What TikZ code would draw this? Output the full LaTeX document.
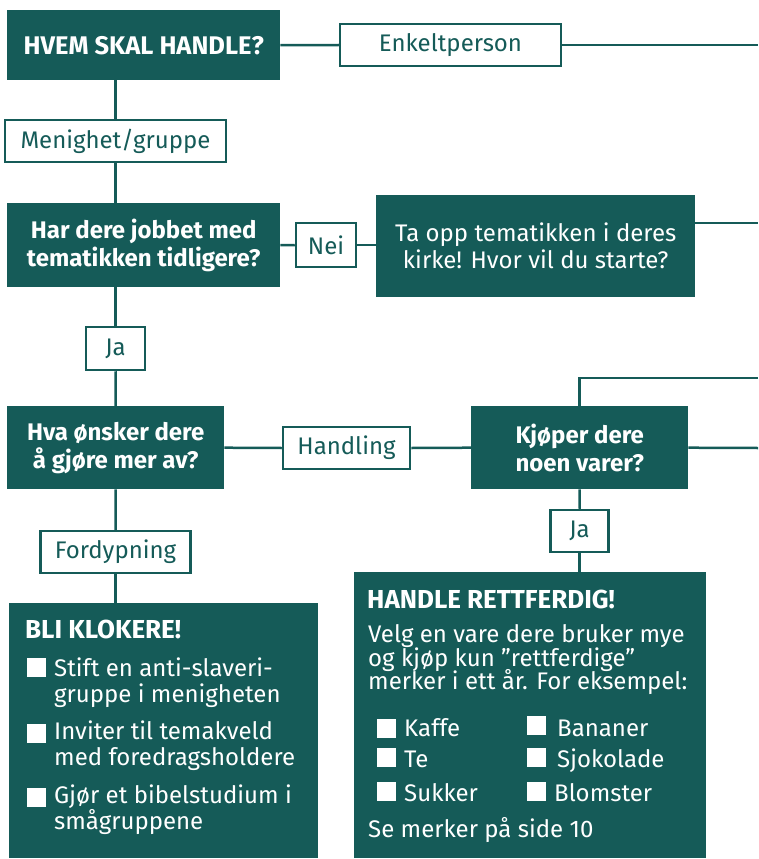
\documentclass[tikz,border=0pt]{standalone}
\usepackage{fontspec}
\setmainfont{Fira Sans}
\usepackage{xcolor}
\usetikzlibrary{positioning}
\definecolor{kirke}{RGB}{21,91,88}

\begin{document}
\begin{tikzpicture}[x=1pt, y=-1pt,
    dark/.style={fill=kirke, text=white, inner sep=0pt, align=center, anchor=north west},
    ask/.style={dark, font=\fontsize{24}{28}\selectfont\bfseries},
    choice/.style={draw=kirke, line width=2.5pt, fill=white, text=kirke, inner sep=0pt,
        font=\fontsize{24}{28}\selectfont},
    link/.style={draw=kirke, line width=2.5pt},
    tick/.style={fill=white, inner sep=0pt, minimum size=19pt, anchor=north west},
    boxhead/.style={text=white, inner sep=0pt, anchor=base west, font=\fontsize{26}{28}\selectfont\bfseries},
    boxtext/.style={text=white, inner sep=0pt, anchor=base west, font=\fontsize{24}{26}\selectfont}]
    \useasboundingbox (0,0) rectangle (758,859);

    % questions and answers
    \node[ask, minimum width=273pt, minimum height=70pt, font=\fontsize{25.5}{28}\selectfont\bfseries] (hvem) at (7,10) {HVEM SKAL HANDLE?};
    \node[choice, minimum width=221pt, minimum height=42pt] (enkelt) at (450.5,45) {Enkeltperson};
    \node[choice, minimum width=221pt, minimum height=42pt] (menig) at (115.5,141) {Menighet/gruppe};
    \node[ask, minimum width=273pt, minimum height=84pt] (jobbet) at (7,203) {Har dere jobbet med\\tematikken tidligere?};
    \node[choice, minimum width=60pt, minimum height=44pt] (nei) at (326,245) {Nei};
    \node[dark, minimum width=319pt, minimum height=102pt, font=\fontsize{24}{27}\selectfont] (tema) at (376,195) {Ta opp tematikken i deres\\kirke! Hvor vil du starte?};
    \node[choice, minimum width=59pt, minimum height=43pt] (ja) at (115.5,348.5) {Ja};
    \node[ask, minimum width=217pt, minimum height=83pt] (onsker) at (7,406) {Hva ønsker dere\\å gjøre mer av?};
    \node[choice, minimum width=127pt, minimum height=42pt] (handling) at (346.5,448) {Handling};
    \node[ask, minimum width=217pt, minimum height=83pt] (kjoper) at (471,406) {Kjøper dere\\noen varer?};
    \node[choice, minimum width=58pt, minimum height=42pt] (jaVarer) at (579.5,531) {Ja};
    \node[choice, minimum width=150pt, minimum height=42pt] (fordyp) at (115.5,552) {Fordypning};

    \coordinate (enkeltEnd) at (758,45);
    \coordinate (temaEnd) at (758,223);
    \coordinate (topEnd) at (758,378);
    \coordinate (kjoperEnd) at (758,448);

    % big boxes
    \node[dark, minimum width=309pt, minimum height=255pt] (klok) at (9,603) {};
    \node[dark, minimum width=352pt, minimum height=286pt] (rett) at (354,572) {};

    % connectors
    \draw[link] (hvem.east) -- (enkelt.west);
    \draw[link] (enkelt.east) -- (enkeltEnd);
    \draw[link] (menig.north) -- (menig.north |- hvem.south);
    \draw[link] (menig.south) -- (menig.south |- jobbet.north);
    \draw[link] (jobbet.east) -- (nei.west);
    \draw[link] (nei.east) -- (nei.east -| tema.west);
    \draw[link] (temaEnd -| tema.east) -- (temaEnd);
    \draw[link] (ja.north) -- (ja.north |- jobbet.south);
    \draw[link] (ja.south) -- (onsker.north);
    \draw[link] (onsker.east) -- (handling.west);
    \draw[link] (handling.east) -- (kjoper.west);
    \draw[link] (kjoper.north) -- (kjoper.north |- topEnd) -- (topEnd);
    \draw[link] (kjoper.east) -- (kjoperEnd);
    \draw[link] (kjoper.south) -- (jaVarer.north);
    \draw[link] (jaVarer.south) -- (jaVarer.south |- rett.north);
    \draw[link] (onsker.south) -- (fordyp.north);
    \draw[link] (fordyp.south) -- (fordyp.south |- klok.north);

    % BLI KLOKERE!
    \node[boxhead] (klokHead) at (25,638) {BLI KLOKERE!};
    \node[tick] (klokTick1) at (27,658) {};
    \node[tick] (klokTick2) at (27,724) {};
    \node[tick] (klokTick3) at (27,788) {};
    \node[boxtext] (klok1a) at (54,676) {Stift en anti-slaveri-};
    \node[boxtext] (klok1b) at (54,702) {gruppe i menigheten};
    \node[boxtext] (klok2a) at (54,739) {Inviter til temakveld};
    \node[boxtext] (klok2b) at (54,765) {med foredragsholdere};
    \node[boxtext] (klok3a) at (54,803) {Gjør et bibelstudium i};
    \node[boxtext] (klok3b) at (54,829) {smågruppene};

    % HANDLE RETTFERDIG!
    \node[boxhead] (rettHead) at (367,608) {HANDLE RETTFERDIG!};
    \node[boxtext] (rett1) at (368,642) {Velg en vare dere bruker mye};
    \node[boxtext] (rett2) at (368,666) {og kjøp kun ”rettferdige”};
    \node[boxtext] (rett3) at (368,689) {merker i ett år. For eksempel:};
    \node[tick] (rettTick1) at (377,719) {};
    \node[tick] (rettTick2) at (377,748) {};
    \node[tick] (rettTick3) at (377,782) {};
    \node[tick] (rettTick4) at (527,716) {};
    \node[tick] (rettTick5) at (527,748) {};
    \node[tick] (rettTick6) at (527,782) {};
    \node[boxtext] (kaffe) at (404,736) {Kaffe};
    \node[boxtext] (te) at (404,767) {Te};
    \node[boxtext] (sukker) at (404,801) {Sukker};
    \node[boxtext] (bananer) at (557,736) {Bananer};
    \node[boxtext] (sjokolade) at (557,767) {Sjokolade};
    \node[boxtext] (blomster) at (554,801) {Blomster};
    \node[boxtext] (rettFoot) at (368,837) {Se merker på side 10};
\end{tikzpicture}
\end{document}
